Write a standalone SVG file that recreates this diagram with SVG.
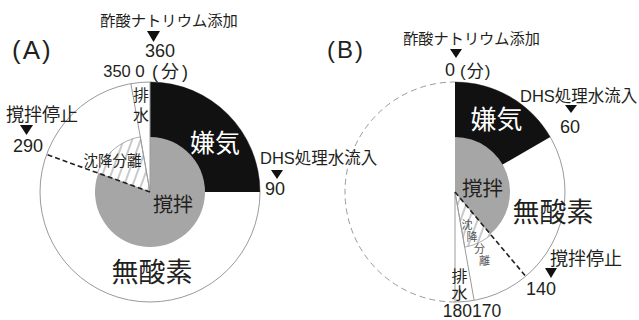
<svg xmlns="http://www.w3.org/2000/svg" width="639" height="320" viewBox="0 0 639 320">
<style>
  text { font-family: "Liberation Sans", "Noto Sans CJK JP", sans-serif; fill: #231f20; }
  .c { text-anchor: middle; }
  .thin { fill: none; stroke: #9a9a9a; stroke-width: 1; }
  .dash { fill: none; stroke: #231f20; stroke-width: 1.6; stroke-dasharray: 5 3; }
  .gdash { fill: none; stroke: #9a9a9a; stroke-width: 1; stroke-dasharray: 6 4; }
  .black { fill: #111; }
  .gray { fill: #a6a6a6; }
  .tri { fill: #111; }
  .wt { fill: #fff; }
  .small { fill: #555; }
</style>
<defs>
  <pattern id="hatch" width="8" height="8" patternUnits="userSpaceOnUse" patternTransform="rotate(20)">
    <rect width="8" height="8" fill="#fff"/>
    <line x1="4" y1="0" x2="4" y2="8" stroke="#777" stroke-width="0.8"/>
  </pattern>
</defs>

<g id="chartA">
  <circle cx="150" cy="192" r="110" fill="#fff" stroke="#9a9a9a" stroke-width="1"/>
  <path class="black" d="M150,192 L150,82 A110,110 0 0 1 260,192 Z"/>
  <path class="gray" d="M150,192 L150,137 A55,55 0 1 1 98.32,173.19 Z"/>
  <path d="M150,192 L97.38,172.85 A56,56 0 0 1 140.28,136.85 Z" fill="url(#hatch)" stroke="#9a9a9a" stroke-width="0.8"/>
  <line class="thin" x1="150" y1="192" x2="130.9" y2="83.67"/>
  <line class="thin" x1="150" y1="192" x2="150" y2="82"/>
</g>

<g id="chartB">
  <path class="thin" d="M455,82 A110,110 0 0 1 455,302"/>
  <path class="gdash" d="M455,302 A110,110 0 0 1 455,82"/>
  <path class="black" d="M455,192 L455,82 A110,110 0 0 1 550.26,137 Z"/>
  <path class="gray" d="M455,192 L455,137 A55,55 0 0 1 490.35,234.13 Z"/>
  <path d="M455,192 L491,234.9 A56,56 0 0 1 464.72,247.15 Z" fill="url(#hatch)" stroke="#9a9a9a" stroke-width="0.8"/>
  <line class="thin" x1="455" y1="192" x2="455" y2="302"/>
  <line class="thin" x1="455" y1="192" x2="474.1" y2="300.33"/>
</g>

<g id="connectors">
  <line class="dash" x1="150" y1="192" x2="46.63" y2="154.38"/>
  <line class="dash" x1="455" y1="192" x2="525.71" y2="276.26"/>
</g>

<g id="markers">
  <polygon class="tri" points="147,31 160,31 153.5,42"/>
  <polygon class="tri" points="20,125 33,125 26.5,135"/>
  <polygon class="tri" points="271,170 283,170 277,179"/>
  <polygon class="tri" points="450,49 462,49 456,58"/>
  <polygon class="tri" points="565,105 577,105 571,113"/>
  <polygon class="tri" points="545,268 557,268 551,278"/>
</g>

<g id="labelsA">
  <text x="12" y="59" font-size="26" letter-spacing="2">(A)</text>
  <text class="c" x="169" y="26" font-size="15.3">酢酸ナトリウム添加</text>
  <text class="c" x="160" y="57" font-size="18">360</text>
  <text class="c" x="117" y="77" font-size="16.5">350</text>
  <text class="c" x="140" y="77" font-size="17">0</text>
  <text x="152" y="78" font-size="18" letter-spacing="3">(分)</text>
  <text x="6" y="121" font-size="18">撹拌停止</text>
  <text class="c" x="28" y="152" font-size="18">290</text>
  <text class="c" x="141" y="101" font-size="16">排</text>
  <text class="c" x="141" y="120.5" font-size="16">水</text>
  <text class="c wt" x="215" y="152" font-size="25">嫌気</text>
  <text x="260" y="163.5" font-size="16.5">DHS処理水流入</text>
  <text class="c" x="275" y="195" font-size="18">90</text>
  <text class="c" x="173" y="212" font-size="20">撹拌</text>
  <text class="c" x="152" y="282" font-size="27">無酸素</text>
  <text class="c" x="112.5" y="166" font-size="14.5" fill="#333">沈降分離</text>
</g>

<g id="labelsB">
  <text x="327" y="58" font-size="24" letter-spacing="2">(B)</text>
  <text class="c" x="471.5" y="44" font-size="15.2">酢酸ナトリウム添加</text>
  <text class="c" x="450" y="76" font-size="18">0</text>
  <text x="460" y="77" font-size="17" letter-spacing="1">(分)</text>
  <text x="520" y="101.5" font-size="16.5">DHS処理水流入</text>
  <text class="c" x="570" y="133" font-size="18">60</text>
  <text class="c wt" x="496.5" y="129" font-size="26">嫌気</text>
  <text class="c" x="482.5" y="196" font-size="20.5">撹拌</text>
  <text class="c" x="553" y="222" font-size="27">無酸素</text>
  <text class="c" x="586" y="265" font-size="18">撹拌停止</text>
  <text class="c" x="541" y="295" font-size="18">140</text>
  <text class="c" x="459.5" y="282" font-size="16">排</text>
  <text class="c" x="459.5" y="299" font-size="16">水</text>
  <text class="c" x="472" y="316.5" font-size="17.5">180170</text>
  <text class="c small" x="467" y="229" font-size="11">沈</text>
  <text class="c small" x="472" y="241" font-size="11">降</text>
  <text class="c small" x="479.5" y="253" font-size="11">分</text>
  <text class="c small" x="484.5" y="265" font-size="11">離</text>
</g>
</svg>
